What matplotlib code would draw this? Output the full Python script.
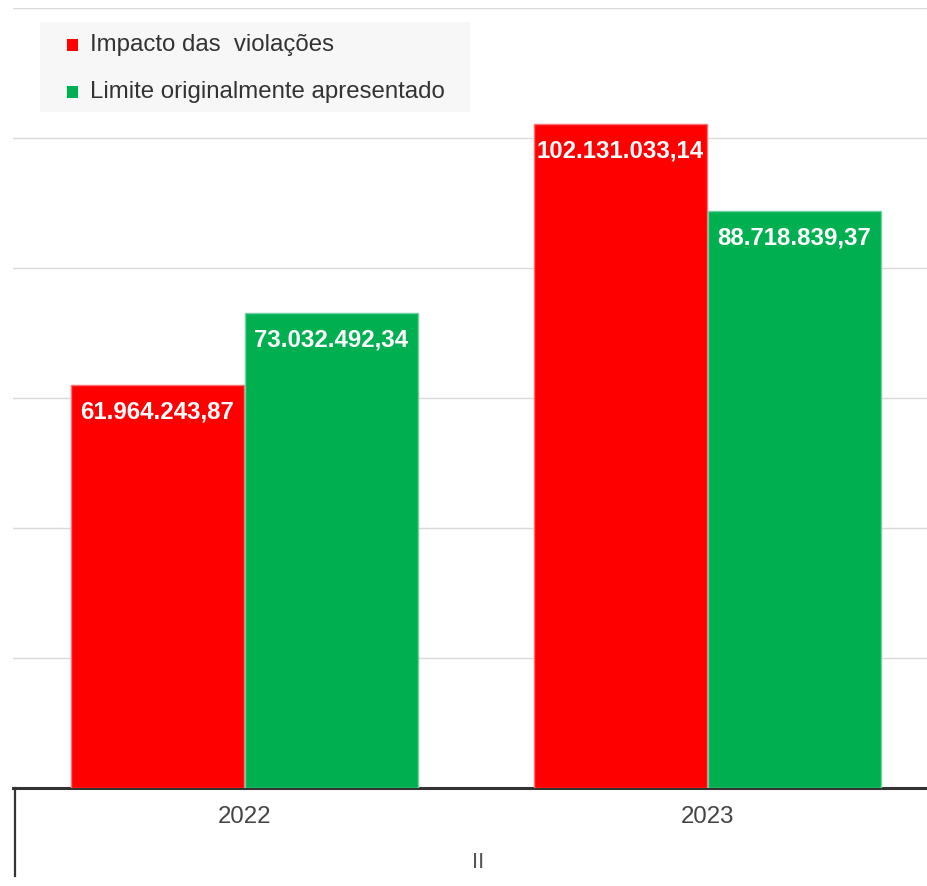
import matplotlib
matplotlib.use("Agg")
import matplotlib.pyplot as plt
from matplotlib.patches import Rectangle
from matplotlib.lines import Line2D
import numpy as np

plt.rcParams['font.family'] = ['Liberation Sans', 'DejaVu Sans']

categories = ["2022", "2023"]
series_names = ["Impacto das  violações", "Limite originalmente apresentado"]
impacto = [61964243.87, 102131033.14]
limite = [73032492.34, 88718839.37]
series_colors = ["#ff0000", "#00b050"]
edge_colors = ["#ff7070", "#70d0a0"]
value_labels_impacto = ["61.964.243,87", "102.131.033,14"]
value_labels_limite = ["73.032.492,34", "88.718.839,37"]

W, H = 928, 886
fig = plt.figure(figsize=(W / 100, H / 100), dpi=100)
fig.patch.set_facecolor("white")

def fx(px):
    return px / W

def fy(py):
    return 1 - py / H

ax = fig.add_axes([fx(13), fy(788), (939 - 13) / W, (788 - 8) / H])
ax.set_facecolor("none")
ax.set_xlim(-0.5, 1.5)
ax.set_ylim(0, 120e6)
ax.set_yticks(np.arange(0, 120e6 + 1, 20e6))
ax.yaxis.grid(True, color="#d9d9d9", linewidth=1.0)
ax.set_axisbelow(True)
ax.tick_params(axis="y", left=False, labelleft=False)
for s in ["top", "right", "left"]:
    ax.spines[s].set_visible(False)
ax.spines["bottom"].set_color("#333333")
ax.spines["bottom"].set_linewidth(2.2)

x = np.arange(len(categories))
bw = 0.374
off = 0.188
series = [impacto, limite]
labels = [value_labels_impacto, value_labels_limite]
for i, (vals, lbls) in enumerate(zip(series, labels)):
    pos = x + (-off if i == 0 else off)
    ax.bar(pos, vals, width=bw, color=series_colors[i], edgecolor=edge_colors[i],
           linewidth=1.0, zorder=3)
    for xp, v, t in zip(pos, vals, lbls):
        ax.annotate(t, (xp, v), xytext=(0, -19.5), textcoords="offset points",
                    ha="center", va="center", color="white", fontsize=17.3,
                    fontweight="bold", zorder=4)

ax.set_xticks(x)
ax.set_xticklabels(categories, fontsize=17.3, color="#444444")
ax.tick_params(axis="x", length=0, pad=13)

# left frame tick of category axis
fig.add_artist(Line2D([fx(15), fx(15)], [fy(788), fy(876)], color="#333333",
                      linewidth=1.6, transform=fig.transFigure))
fig.text(fx(478), fy(862), "II", ha="center", va="center", fontsize=16,
         color="#555555")

# legend box
fig.add_artist(Rectangle((fx(40), fy(112)), (470 - 40) / W, (112 - 22) / H,
                         transform=fig.transFigure, facecolor="#f7f7f7",
                         edgecolor="none", zorder=1))
rows_y = [45, 92]
for i, name in enumerate(series_names):
    cy = rows_y[i]
    fig.add_artist(Rectangle((fx(67), fy(cy + 5.5)), 11 / W, 11 / H,
                             transform=fig.transFigure,
                             facecolor=series_colors[i], edgecolor="none", zorder=2))
    fig.text(fx(90), fy(cy), name, ha="left", va="center", fontsize=17.3,
             color="#333333", zorder=3)

fig.savefig("out.png", dpi=100)
